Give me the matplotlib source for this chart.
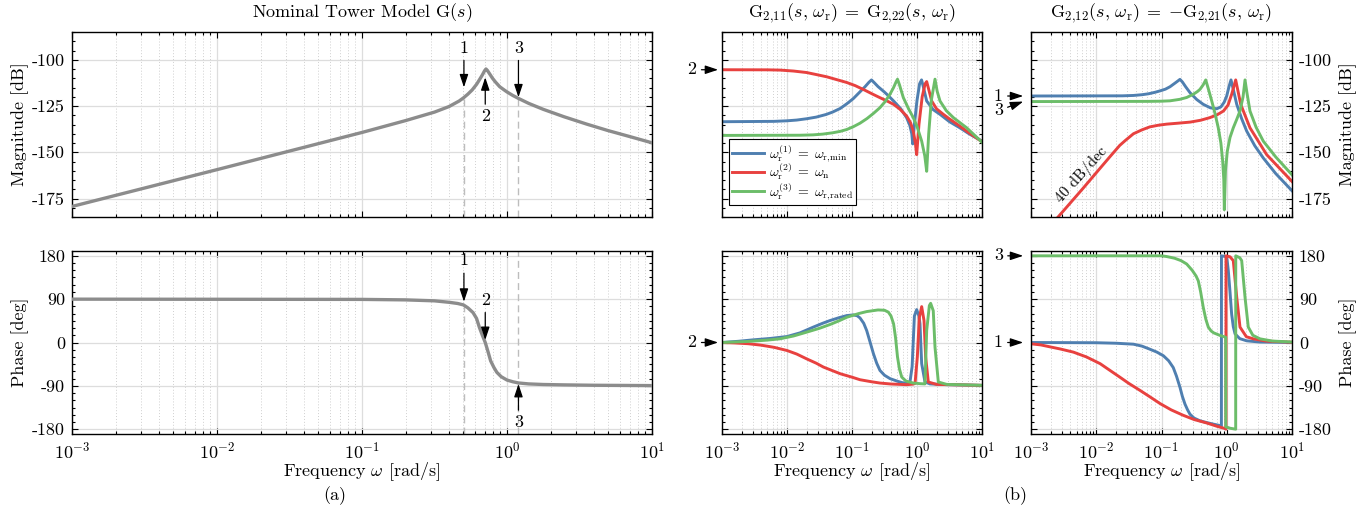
import numpy as np
import matplotlib
matplotlib.use("Agg")
import matplotlib.pyplot as plt
from matplotlib.ticker import FixedLocator, LogLocator, NullFormatter, FixedFormatter

plt.rcParams['font.family'] = ['cmr10', 'DejaVu Serif']
plt.rcParams['mathtext.fontset'] = 'cm'
plt.rcParams['axes.formatter.use_mathtext'] = True
plt.rcParams['axes.unicode_minus'] = False
plt.rcParams['font.size'] = 13

# ---------------- data (log10 of frequency in rad/s, value) ----------------
# Nominal tower model G(s)
g_mag_logw = [-3, -2, -1, -0.7, -0.5, -0.4, -0.33, -0.3, -0.27, -0.24, -0.21, -0.19, -0.17, -0.155, -0.145, -0.135,
              -0.12, -0.1, -0.08, -0.05, -0.02, 0.0, 0.04, 0.079, 0.15, 0.25, 0.393, 0.55, 0.693, 0.85, 1.0]
g_mag_db = [-179.3, -159.4, -139.3, -132.9, -128.3, -125.3, -122.3, -120.6, -118.6, -116.3, -113.3, -110.8, -108.2,
            -106.0, -105.0, -105.8, -107.6, -110.0, -112.0, -114.6, -116.3, -117.4, -119.3, -120.9, -123.6, -126.8,
            -130.8, -134.8, -138.2, -141.6, -144.9]
g_ph_logw = [-3, -1, -0.7, -0.5, -0.4, -0.34, -0.3, -0.27, -0.234, -0.21, -0.19, -0.17, -0.15, -0.13, -0.113, -0.09,
             -0.07, -0.04, 0.0, 0.04, 0.079, 0.15, 0.25, 0.393, 0.6, 1.0]
g_ph_deg = [90, 89.5, 88.5, 86.5, 83.5, 81, 78, 72, 62, 50, 31, 15, 0, -20, -38, -52, -62, -71, -78, -81.5, -84, -86,
            -87.2, -88, -88.8, -89.5]

# markers 1,2,3 (log10 w)
mark_logw = [-0.297, -0.15, 0.079]

# G_{2,11} magnitude
m11_blue_logw = [-3, -2.2, -2.0, -1.85, -1.7, -1.55, -1.4, -1.3, -1.18, -1.08, -0.98, -0.89, -0.8, -0.74, -0.70, -0.66,
                 -0.6, -0.5, -0.43, -0.36, -0.25, -0.16, -0.11, -0.08, -0.066, -0.04, 0.0, 0.04, 0.07, 0.1, 0.149,
                 0.25, 0.354, 0.5, 0.66, 0.8, 1.0]
m11_blue_db = [-133.5, -133.3, -133.0, -132.6, -131.9, -131.0, -129.6, -128.3, -126.3, -123.8, -121.0, -117.8, -114.6,
               -112.2, -110.9, -112.3, -114.5, -117.5, -119.8, -122.3, -126.5, -131.3, -135.5, -140.0, -145.5, -135.0,
               -122.0, -113.0, -110.9, -115.0, -122.3, -127.0, -129.5, -133.5, -136.8, -140.0, -144.0]
m11_red_logw = [-3, -2.3, -2.1, -1.9, -1.7, -1.55, -1.39, -1.25, -1.08, -0.95, -0.8, -0.67, -0.57, -0.46, -0.36,
                -0.26, -0.16, -0.1, -0.057, -0.025, -0.005, 0.03, 0.08, 0.125, 0.149, 0.18, 0.226, 0.3, 0.405, 0.5,
                0.66, 0.8, 1.0]
m11_red_db = [-105.4, -105.45, -105.6, -106.1, -106.9, -108.0, -109.2, -110.6, -112.3, -114.0, -116.5, -118.8, -120.5,
              -122.3, -124.1, -126.8, -130.4, -134.0, -138.6, -145.0, -151.3, -135.0, -120.0, -113.0, -111.8, -116.0,
              -122.3, -126.5, -129.5, -132.0, -135.9, -139.5, -144.3]
m11_green_logw = [-3, -1.8, -1.6, -1.45, -1.3, -1.18, -1.08, -0.98, -0.877, -0.77, -0.67, -0.57, -0.49, -0.415, -0.36,
                  -0.32, -0.30, -0.27, -0.21, -0.13, -0.057, 0.0, 0.072, 0.12, 0.149, 0.18, 0.22, 0.277, 0.31, 0.354,
                  0.45, 0.56, 0.765, 1.0]
m11_green_db = [-140.9, -140.8, -140.6, -140.2, -139.5, -138.7, -137.7, -136.2, -134.3, -131.8, -129.0, -125.9, -122.6,
                -118.6, -115.0, -111.8, -110.5, -113.5, -120.5, -126.5, -131.3, -136.0, -144.0, -152.0, -160.3, -140.0,
                -122.0, -110.5, -117.0, -122.3, -127.5, -131.3, -136.8, -144.6]

# G_{2,12} magnitude
m12_blue_logw = [-3, -1.6, -1.43, -1.3, -1.2, -1.1, -1.02, -0.94, -0.87, -0.80, -0.75, -0.717, -0.68, -0.63, -0.563,
                 -0.46, -0.36, -0.25, -0.154, -0.09, -0.04, 0.0, 0.035, 0.065, 0.1, 0.153, 0.23, 0.306, 0.43, 0.56,
                 0.75, 1.0]
m12_blue_db = [-119.6, -119.5, -119.3, -118.9, -118.4, -117.6, -116.8, -115.9, -114.6, -112.8, -111.5, -110.6, -112.0,
               -114.6, -117.8, -121.5, -124.1, -126.0, -126.5, -125.5, -123.0, -119.5, -114.5, -110.9, -116.0, -124.1,
               -132.0, -138.6, -146.5, -153.1, -161.5, -170.8]
m12_red_logw = [-3, -2.58, -2.2, -1.94, -1.79, -1.64, -1.55, -1.43, -1.3, -1.18, -1.05, -0.92, -0.75, -0.56, -0.4,
                -0.26, -0.15, -0.05, 0.02, 0.076, 0.137, 0.214, 0.356, 0.612, 1.0]
m12_red_db = [-201.5, -184.8, -169.4, -158.6, -152.4, -146.3, -143.5, -140.0, -137.9, -136.3, -135.4, -134.8, -134.3,
              -133.7, -132.7, -131.3, -129.8, -127.7, -124.5, -118.6, -110.9, -124.1, -136.8, -151.3, -165.8]
m12_green_logw = [-3, -1.2, -1.0, -0.87, -0.72, -0.614, -0.51, -0.45, -0.41, -0.36, -0.322, -0.28, -0.23, -0.18,
                  -0.13, -0.09, -0.062, -0.045, -0.037, -0.02, 0.008, 0.05, 0.1, 0.15, 0.203, 0.25, 0.28, 0.31, 0.356,
                  0.45, 0.56, 0.75, 1.0]
m12_green_db = [-122.6, -122.5, -122.4, -122.2, -121.4, -120.4, -118.6, -117.2, -116.0, -113.5, -110.9, -116.0, -122.3,
                -129.0, -136.8, -145.0, -154.9, -165.0, -181.1, -160.0, -149.5, -142.0, -136.8, -132.5, -127.7, -120.0,
                -110.9, -118.0, -127.7, -136.5, -144.0, -152.5, -162.2]

# G_{2,11} phase
p11_blue_logw = [-3, -2.75, -2.52, -2.25, -2.0, -1.8, -1.6, -1.45, -1.34, -1.2, -1.08, -0.98, -0.92, -0.877, -0.82,
                 -0.774, -0.72, -0.67, -0.62, -0.57, -0.5, -0.415, -0.3, -0.21, -0.14, -0.108, -0.075, -0.04, -0.005,
                 0.03, 0.046, 0.072, 0.123, 0.2, 0.457, 1.0]
p11_blue_deg = [0, 2.5, 5.5, 8.5, 12.4, 20, 31.7, 40, 45.5, 51.5, 55.9, 57.3, 55.5, 51, 40, 24.8, 0, -23.4, -43, -58,
                -68, -75, -80.5, -84, -84, -82, -50, 55, 68.3, 55, 38.6, -44, -82, -86, -87.5, -89]
p11_red_logw = [-3, -2.8, -2.6, -2.4, -2.2, -2.0, -1.85, -1.7, -1.55, -1.44, -1.3, -1.18, -1.0, -0.877, -0.7, -0.57,
                -0.4, -0.16, -0.06, -0.03, 0.005, 0.036, 0.072, 0.108, 0.133, 0.174, 0.3, 1.0]
p11_red_deg = [0, -1, -2.5, -5.5, -10, -16.6, -24, -33.8, -43, -51, -58.5, -64.9, -72, -77.3, -81.5, -84.2, -86.2,
               -87.6, -86.5, -85, -30, 52, 74.5, 45.5, -30, -82, -87, -89]
p11_green_logw = [-3, -2.62, -2.3, -2.11, -1.9, -1.7, -1.5, -1.34, -1.2, -1.08, -0.9, -0.774, -0.6, -0.5, -0.44, -0.4,
                  -0.36, -0.33, -0.30, -0.27, -0.235, -0.17, -0.057, 0.05, 0.123, 0.149, 0.19, 0.21, 0.25, 0.277,
                  0.328, 0.457, 1.0]
p11_green_deg = [0, 2, 5, 7.6, 13.5, 21.4, 29.5, 37.3, 45, 52.4, 60, 64.2, 67.6, 67, 63, 55, 38.6, 10, -30, -55, -71.8,
                 -80, -84.2, -85.5, -86, 25, 76.6, 81.4, 66, -9.7, -82, -87, -89]

# G_{2,12} phase
p12_blue_logw = [-3, -2.0, -1.7, -1.43, -1.3, -1.18, -1.07, -0.97, -0.89, -0.82, -0.77, -0.716, -0.68, -0.64, -0.6,
                 -0.563, -0.5, -0.41, -0.3, -0.206, -0.12, -0.082, -0.081, 0.0, 0.024, 0.05, 0.075, 0.1, 0.127, 0.2,
                 0.306, 0.5, 1.0]
p12_blue_deg = [0, -0.5, -1.5, -3.5, -7.5, -13.8, -20, -27.6, -38, -52, -70, -93.5, -112, -128, -140, -149, -157,
                -162.6, -166.5, -169.5, -172, -174, 180, 178, 149, 105, 59, 33, 18, 8, 3.5, 1, 0]
p12_red_logw = [-3, -2.85, -2.71, -2.55, -2.35, -2.15, -1.94, -1.8, -1.64, -1.5, -1.33, -1.17, -1.02, -0.85, -0.67,
                -0.5, -0.31, -0.15, -0.027, -0.012, -0.011, 0.05, 0.1, 0.153, 0.203, 0.3, 0.407, 0.6, 1.0]
p12_red_deg = [-2.7, -5, -9, -13.5, -20, -30, -44, -57, -71.8, -85, -99.4, -113.5, -127, -140, -151, -160, -167, -174,
               -178.6, -180, 180, 178, 170, 94, 32, 12, 7.6, 3, 0.5]
p12_green_logw = [-3, -1.0, -0.92, -0.8, -0.7, -0.614, -0.53, -0.47, -0.436, -0.40, -0.36, -0.32, -0.283, -0.24, -0.2,
                  -0.1, -0.016, -0.015, 0.05, 0.137, 0.138, 0.2, 0.229, 0.28, 0.33, 0.4, 0.51, 0.7, 1.0]
p12_green_deg = [180, 180, 178.5, 175, 170, 163, 150, 138, 128, 105, 73, 48, 32, 24, 20, 14.5, 11, -175, -178, -180,
                 180, 176, 170, 94, 32, 15, 7.6, 3, 1]

legend_labels = [r'$\omega_\mathrm{r}^{(1)}\;=\;\omega_{\mathrm{r{,}min}}$',
                 r'$\omega_\mathrm{r}^{(2)}\;=\;\omega_{\mathrm{n}}$',
                 r'$\omega_\mathrm{r}^{(3)}\;=\;\omega_{\mathrm{r{,}rated}}$']

BLUE, RED, GREEN, GRAY = '#4f7fb0', '#e8413f', '#6cbd69', '#8c8c8c'
LW = 2.1

W, H = 1363, 512
fig = plt.figure(figsize=(W / 100, H / 100), dpi=100)


def rect(x0, y0, x1, y1):
    return [x0 / W, 1 - y1 / H, (x1 - x0) / W, (y1 - y0) / H]


def style(ax, kind, ylabels='left', xlabels=False):
    ax.set_xscale('log')
    ax.set_xlim(1e-3, 1e1)
    ax.xaxis.set_major_locator(LogLocator(base=10, numticks=10))
    ax.xaxis.set_minor_locator(LogLocator(base=10, subs=np.arange(2, 10), numticks=50))
    ax.xaxis.set_minor_formatter(NullFormatter())
    if kind == 'mag':
        ax.set_ylim(-185, -85)
        yt = [-175, -150, -125, -100]
        ax.yaxis.set_major_locator(FixedLocator(yt))
        ax.yaxis.set_major_formatter(FixedFormatter([str(v) for v in yt]))
        ax.yaxis.set_minor_locator(FixedLocator(np.arange(-185, -84, 5)))
    else:
        ax.set_ylim(-190, 190)
        yt = [-180, -90, 0, 90, 180]
        ax.yaxis.set_major_locator(FixedLocator(yt))
        ax.yaxis.set_major_formatter(FixedFormatter([str(v) for v in yt]))
        ax.yaxis.set_minor_locator(FixedLocator(np.arange(-180, 181, 15)))
    ax.grid(True, which='major', color='#dddddd', lw=0.9, ls='-')
    ax.grid(True, which='minor', axis='x', color='#cfcfcf', lw=0.7, ls=(0, (1, 2)))
    ax.set_axisbelow(True)
    ax.tick_params(which='both', direction='in', top=True, right=True, width=0.8)
    ax.tick_params(which='major', length=4, pad=5)
    ax.tick_params(which='minor', length=2)
    for s in ax.spines.values():
        s.set_linewidth(1.0)
    if ylabels == 'left':
        ax.tick_params(axis='y', labelleft=True, labelright=False)
    elif ylabels == 'right':
        ax.tick_params(axis='y', labelleft=False, labelright=True)
    else:
        ax.tick_params(axis='y', labelleft=False, labelright=False)
    ax.tick_params(axis='x', labelbottom=xlabels)
    if xlabels:
        ax.set_xlabel(r'Frequency $\omega$ [rad/s]')
        ax.xaxis.set_label_coords(0.5, -(472 - 434) / 183)
        ax.xaxis.label.set_verticalalignment('center')


def w(lw):
    return 10 ** np.asarray(lw, dtype=float)


axLm = fig.add_axes(rect(72, 32, 652, 217))
axLp = fig.add_axes(rect(72, 251, 652, 434))
axMm = fig.add_axes(rect(722, 32, 982, 217))
axMp = fig.add_axes(rect(722, 251, 982, 434))
axRm = fig.add_axes(rect(1031, 32, 1292, 217))
axRp = fig.add_axes(rect(1031, 251, 1292, 434))

style(axLm, 'mag', 'left')
style(axLp, 'ph', 'left', True)
style(axMm, 'mag', 'none')
style(axMp, 'ph', 'none', True)
style(axRm, 'mag', 'right')
style(axRp, 'ph', 'right', True)

axLm.set_ylabel('Magnitude [dB]')
axLm.yaxis.set_label_coords(-(72 - 29) / 580, 0.5)
axLp.set_ylabel('Phase [deg]')
axLp.yaxis.set_label_coords(-(72 - 29) / 580, 0.5)
axRm.set_ylabel('Magnitude [dB]')
axRm.yaxis.set_label_position('right')
axRm.yaxis.set_label_coords(1 + (1339 - 1292) / 261, 0.5)
axRp.set_ylabel('Phase [deg]')
axRp.yaxis.set_label_position('right')
axRp.yaxis.set_label_coords(1 + (1339 - 1292) / 261, 0.5)

# ---- left: nominal model ----
axLm.plot(w(g_mag_logw), g_mag_db, color=GRAY, lw=2.4, zorder=3)
axLp.plot(w(g_ph_logw), g_ph_deg, color=GRAY, lw=2.4, zorder=3)

dash = dict(color='#bdbdbd', lw=1.0, ls=(0, (5, 3)), zorder=2)
m_db1 = float(np.interp(mark_logw[0], g_mag_logw, g_mag_db))
m_db3 = float(np.interp(mark_logw[2], g_mag_logw, g_mag_db))
axLm.plot([w(mark_logw[0])] * 2, [-185, m_db1], **dash)
axLm.plot([w(mark_logw[2])] * 2, [-185, m_db3], **dash)
p1 = float(np.interp(mark_logw[0], g_ph_logw, g_ph_deg))
axLp.plot([w(mark_logw[0])] * 2, [-190, p1], **dash)
axLp.plot([w(mark_logw[2])] * 2, [-190, 190], **dash)

arw = dict(arrowstyle='-|>,head_length=0.6,head_width=0.2', color='k', lw=0.9, shrinkA=1.5, shrinkB=0)


def ann(ax, txt, xy, xytext, xyc='data'):
    ax.annotate(txt, xy=xy, xytext=xytext, xycoords=xyc, textcoords=xyc,
                ha='center', va='center', arrowprops=arw, annotation_clip=False, fontsize=13)


ann(axLm, '1', (w(mark_logw[0]), -114.9), (w(mark_logw[0]), -93.6))
ann(axLm, '2', (w(mark_logw[1]), -109.5), (w(mark_logw[1]), -130.8))
ann(axLm, '3', (w(mark_logw[2]), -120.3), (w(mark_logw[2]), -93.6))
ann(axLp, '1', (w(mark_logw[0]), 84.7), (w(mark_logw[0]), 169.9))
ann(axLp, '2', (w(mark_logw[1]), 5.3), (w(mark_logw[1]), 88.3))
ann(axLp, '3', (w(mark_logw[2]), -86.2), (w(mark_logw[2]), -166.5))

# ---- middle: G2,11 ----
h1, = axMm.plot(w(m11_blue_logw), m11_blue_db, color=BLUE, lw=LW)
h2, = axMm.plot(w(m11_red_logw), m11_red_db, color=RED, lw=LW)
h3, = axMm.plot(w(m11_green_logw), m11_green_db, color=GREEN, lw=LW)
axMp.plot(w(p11_blue_logw), p11_blue_deg, color=BLUE, lw=LW)
axMp.plot(w(p11_red_logw), p11_red_deg, color=RED, lw=LW)
axMp.plot(w(p11_green_logw), p11_green_deg, color=GREEN, lw=LW)
leg = axMm.legend([h1, h2, h3], legend_labels, loc='lower left',
                  bbox_to_anchor=(7 / 260, 12 / 185), borderaxespad=0, fontsize=10,
                  fancybox=False, edgecolor='k', framealpha=1, handlelength=2.3,
                  labelspacing=-0.12, borderpad=0.25, handletextpad=0.3)
leg.get_frame().set_linewidth(0.8)

# ---- right: G2,12 ----
axRm.plot(w(m12_blue_logw), m12_blue_db, color=BLUE, lw=LW)
axRm.plot(w(m12_red_logw), m12_red_db, color=RED, lw=LW)
axRm.plot(w(m12_green_logw), m12_green_db, color=GREEN, lw=LW)
axRp.plot(w(p12_blue_logw), p12_blue_deg, color=BLUE, lw=LW)
axRp.plot(w(p12_red_logw), p12_red_deg, color=RED, lw=LW)
axRp.plot(w(p12_green_logw), p12_green_deg, color=GREEN, lw=LW)
axRm.text(w(-2.22), -162.0, '40 dB/dec', rotation=48, ha='center', va='center', fontsize=11)

# side arrows (axes-fraction x, data y)
xc = ('axes fraction', 'data')
ann(axMm, '2', (-0.015, m11_red_db[0]), (-0.115, m11_red_db[0]), xc)
ann(axMp, '2', (-0.015, 0), (-0.115, 0), xc)
ann(axRm, '1', (-0.03, m12_blue_db[0]), (-0.125, m12_blue_db[0]), xc)
ann(axRm, '3', (-0.03, m12_green_db[0]), (-0.125, -127.5), xc)
ann(axRp, '3', (-0.03, 180), (-0.125, 180), xc)
ann(axRp, '1', (-0.03, 0), (-0.125, 0), xc)

# titles & captions
fig.text(362 / W, 1 - 13 / H, r'Nominal Tower Model G$(s)$', ha='center', va='center', fontsize=13)
fig.text(852 / W, 1 - 13 / H,
         r'$\mathrm{G}_{2{,}11}(s,\,\omega_\mathrm{r})\;=\;\mathrm{G}_{2{,}22}(s,\,\omega_\mathrm{r})$',
         ha='center', va='center', fontsize=13)
fig.text(1161 / W, 1 - 13 / H,
         r'$\mathrm{G}_{2{,}12}(s,\,\omega_\mathrm{r})\;=\;{-}\mathrm{G}_{2{,}21}(s,\,\omega_\mathrm{r})$',
         ha='center', va='center', fontsize=13)
fig.text(335 / W, 1 - 496 / H, '(a)', ha='center', va='center', fontsize=13)
fig.text(1015 / W, 1 - 496 / H, '(b)', ha='center', va='center', fontsize=13)

fig.savefig('out.png', dpi=100)
